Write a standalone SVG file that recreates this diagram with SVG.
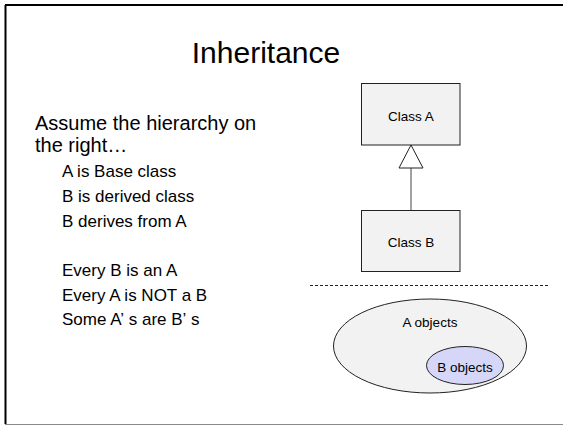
<svg xmlns="http://www.w3.org/2000/svg" width="563" height="426" viewBox="0 0 563 426">
<style>
text{font-family:"Liberation Sans",Arial,sans-serif;fill:#000}
.title{font-size:30px;text-anchor:middle}
.l1{font-size:20px}
.l2{font-size:17px}
.sm{font-size:13.5px;text-anchor:middle}
.box{fill:#f2f2f2;stroke:#222;stroke-width:1}
</style>
<rect width="563" height="426" fill="#fff"/>
<g id="frame">
<line x1="5.5" y1="5" x2="5.5" y2="424" stroke="#000" stroke-width="2"/>
<line x1="5" y1="5" x2="563" y2="5" stroke="#000" stroke-width="2"/>
<line x1="5" y1="424.5" x2="563" y2="424.5" stroke="#888" stroke-width="1"/>
</g>
<text class="title" x="266" y="63">Inheritance</text>
<g id="bullets">
<text class="l1" x="35" y="130">Assume the hierarchy on</text>
<text class="l1" x="35" y="152">the right…</text>
<text class="l2" x="62" y="177">A is Base class</text>
<text class="l2" x="62" y="202">B is derived class</text>
<text class="l2" x="62" y="227">B derives from A</text>
<text class="l2" x="62" y="276">Every B is an A</text>
<text class="l2" x="62" y="301">Every A is NOT a B</text>
<text class="l2" x="62" y="325">Some A’<tspan dx="5">s are B’</tspan><tspan dx="5">s</tspan></text>
</g>
<g id="connectors">
<line x1="411" y1="210" x2="411" y2="168" stroke="#444" stroke-width="1"/>
<polygon points="411,145 399,168 423,168" fill="#fff" stroke="#222" stroke-width="1"/>
</g>
<g id="classA">
<rect class="box" x="361.5" y="83.5" width="98.5" height="61.5"/>
<text class="sm" x="411" y="121">Class A</text>
</g>
<g id="classB">
<rect class="box" x="361.5" y="210.5" width="98.5" height="61"/>
<text class="sm" x="411" y="247">Class B</text>
</g>
<line id="divider" x1="310" y1="285.5" x2="548" y2="285.5" stroke="#222" stroke-width="1" stroke-dasharray="3,2"/>
<g id="aObjects">
<ellipse cx="430" cy="346" rx="96.5" ry="47" fill="#f2f2f2" stroke="#222" stroke-width="1"/>
<text class="sm" x="430" y="327">A objects</text>
</g>
<g id="bObjects">
<ellipse cx="465" cy="365.5" rx="38.5" ry="19" fill="#d6d6f8" stroke="#222" stroke-width="1"/>
<text class="sm" x="465" y="372">B objects</text>
</g>
</svg>
